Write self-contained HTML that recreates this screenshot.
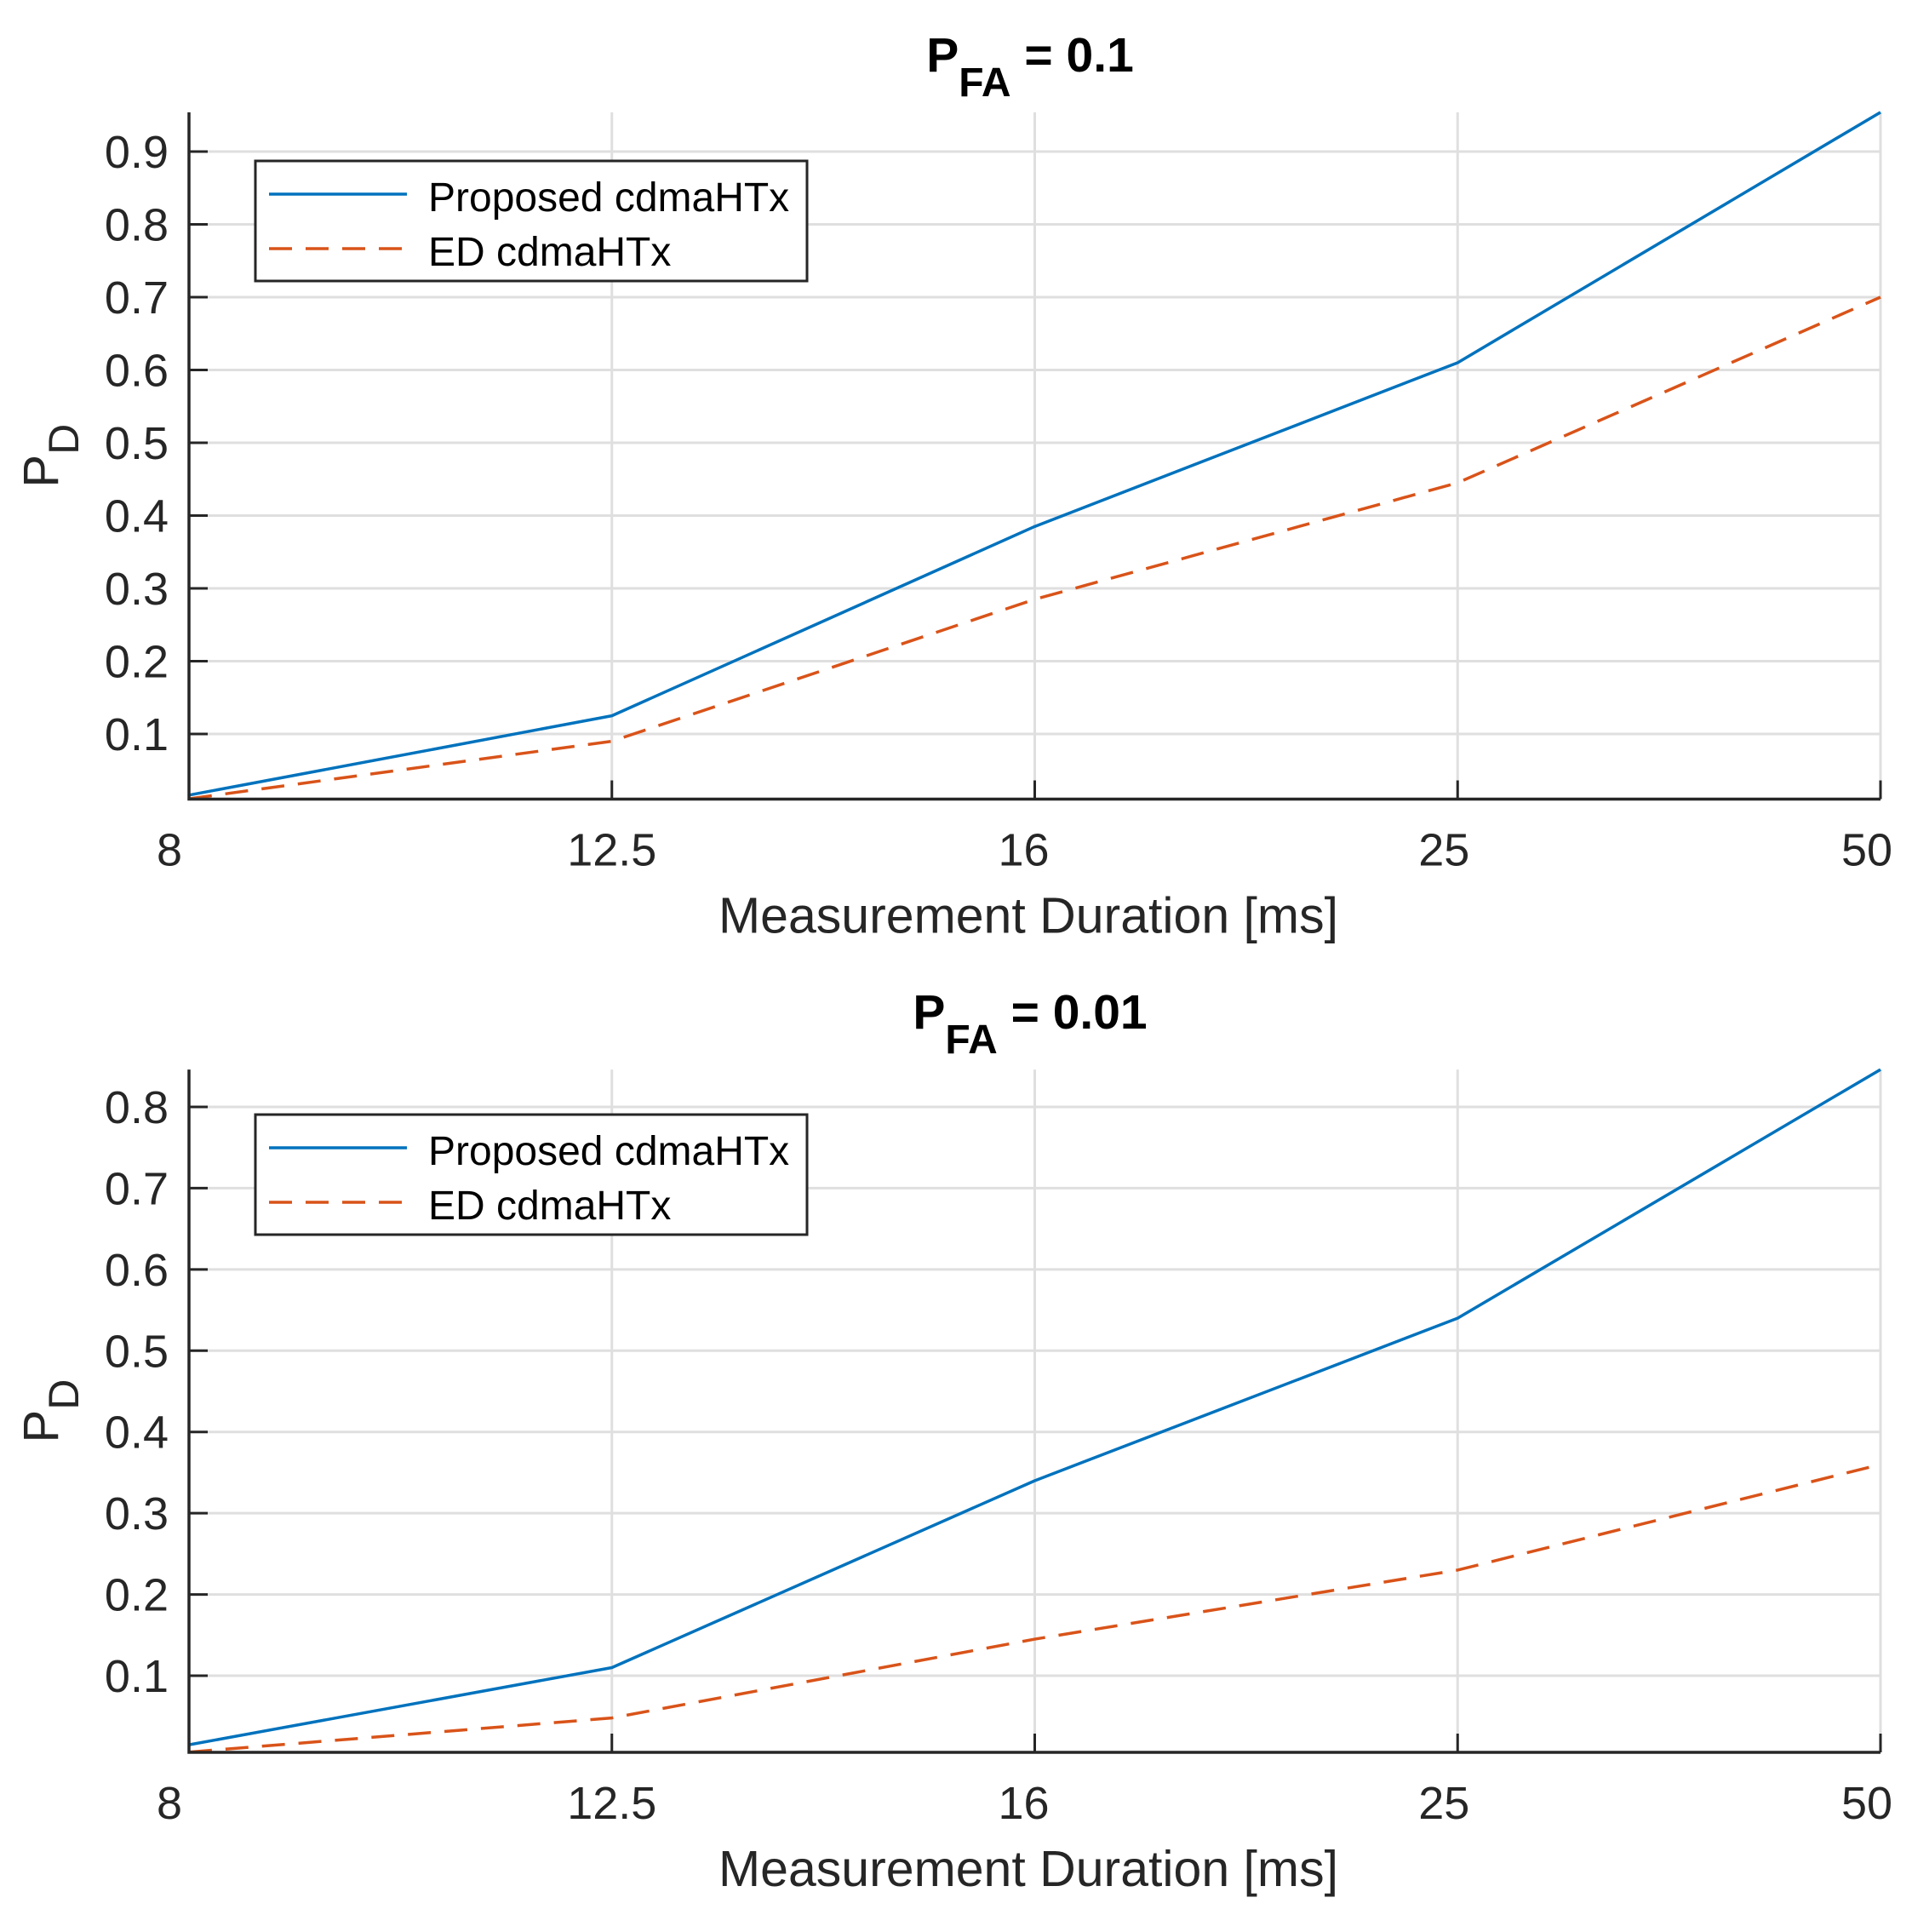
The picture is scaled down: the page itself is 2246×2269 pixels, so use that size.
<!DOCTYPE html>
<html><head><meta charset="utf-8">
<style>
html,body{margin:0;padding:0;background:#fff;}
svg{display:block;font-family:"Liberation Sans",Arial,sans-serif;}
</style></head>
<body>
<svg id="fig" width="2246" height="2269" viewBox="0 0 2246 2269" xmlns="http://www.w3.org/2000/svg"></svg>
<script>
const categories = ["8","12.5","16","25","50"];
const top_proposed = [0.016, 0.125, 0.385, 0.61, 0.954];
const top_ed = [0.011, 0.09, 0.285, 0.445, 0.70];
const bot_proposed = [0.015, 0.11, 0.34, 0.54, 0.846];
const bot_ed = [0.006, 0.048, 0.145, 0.23, 0.36];
const top_ticks = [0.1,0.2,0.3,0.4,0.5,0.6,0.7,0.8,0.9];
const bot_ticks = [0.1,0.2,0.3,0.4,0.5,0.6,0.7,0.8];
const titles = ["0.1","0.01"];

const NS="http://www.w3.org/2000/svg";
const svg=document.getElementById('fig');
function mk(tag,attrs,parent){const e=document.createElementNS(NS,tag);for(const k in attrs)e.setAttribute(k,attrs[k]);(parent||svg).appendChild(e);return e;}

const L=222,R=2209;
const labelShift=[-23,0,-13,-16,-16];
function drawPanel(p){
  const g=mk('g',{});
  
  
  const xs=i=>L+i*(R-L)/(categories.length-1);
  const ys=v=>p.y0+(p.v0-v)*p.k;
  const top=ys(p.vmax), bot=ys(p.vmin);
  p.ticks.forEach(t=>{
    const gl=mk('line',{x1:L,x2:R,y1:ys(t),y2:ys(t),stroke:'#dfdfdf','stroke-width':3},g);
    
    
  });
  categories.forEach((c,i)=>{
    if(i>0){const gl=mk('line',{x1:xs(i),x2:xs(i),y1:top,y2:bot,stroke:'#dfdfdf','stroke-width':3},g);
    
    }
  });
  const pts=a=>a.map((v,i)=>xs(i)+','+ys(v)).join(' ');
  const s1=mk('polyline',{points:pts(p.prop),fill:'none',stroke:'#0072BD','stroke-width':3.5,'stroke-linejoin':'round'},g);
  
  
  const s2=mk('polyline',{points:pts(p.ed),fill:'none',stroke:'#D95319','stroke-width':3.5,'stroke-dasharray':'27 16'},g);
  
  
  const ax=mk('path',{d:`M${L},${top} V${bot} H${R}`,fill:'none',stroke:'#262626','stroke-width':3.5},g);
  
  
  p.ticks.forEach(t=>{
    mk('line',{x1:L,x2:L+22,y1:ys(t),y2:ys(t),stroke:'#262626','stroke-width':3},g);
    const tx=mk('text',{x:198,y:ys(t)+19,'text-anchor':'end','font-size':54,fill:'#262626'},g);
    tx.textContent=t.toFixed(1);
    
    
  });
  categories.forEach((c,i)=>{
    mk('line',{x1:xs(i),x2:xs(i),y1:bot,y2:bot-22,stroke:'#262626','stroke-width':3},g);
    const tx=mk('text',{x:xs(i)+labelShift[i],y:bot+78,'text-anchor':'middle','font-size':54,fill:'#262626'},g);
    tx.textContent=c;
    
    
  });
  const xl=mk('text',{x:1208,y:bot+157,'text-anchor':'middle','font-size':59,fill:'#262626'},g);
  xl.textContent='Measurement Duration [ms]';
  
  
  const cy=(top+bot)/2;
  const yl=mk('text',{transform:`translate(68,${cy}) rotate(-90)`,'text-anchor':'middle','font-size':58,fill:'#262626'},g);
  yl.innerHTML='P<tspan font-size="50" dy="24">D</tspan>';
  
  
  const tt=mk('text',{x:1210,y:p.ty,'text-anchor':'middle','font-size':57,'font-weight':'bold',fill:'#000'},g);
  tt.innerHTML='P<tspan font-size="48" dy="29">FA</tspan><tspan dy="-29"> = '+p.title+'</tspan>';
  
  
  const lg=mk('g',{},g);
  
  
  mk('rect',{x:300,y:p.ly,width:648,height:141,fill:'#fff',stroke:'#262626','stroke-width':3},lg);
  mk('line',{x1:316,x2:478,y1:p.ly+39,y2:p.ly+39,stroke:'#0072BD','stroke-width':3.5},lg);
  mk('line',{x1:316,x2:478,y1:p.ly+103,y2:p.ly+103,stroke:'#D95319','stroke-width':3.5,'stroke-dasharray':'27 16'},lg);
  const t1=mk('text',{x:503,y:p.ly+59,'font-size':48,fill:'#000'},lg);t1.textContent='Proposed cdmaHTx';
  
  
  const t2=mk('text',{x:503,y:p.ly+123,'font-size':48,fill:'#000'},lg);t2.textContent='ED cdmaHTx';
  
  
}
drawPanel({name:'top-panel',y0:178,v0:0.9,k:855,vmin:0.0105,vmax:0.954,ticks:top_ticks,prop:top_proposed,ed:top_ed,title:titles[0],ty:84,ly:189});
drawPanel({name:'bottom-panel',y0:1300,v0:0.8,k:954.3,vmin:0.0057,vmax:0.846,ticks:bot_ticks,prop:bot_proposed,ed:bot_ed,title:titles[1],ty:1208,ly:1309});
</script>
</body></html>
